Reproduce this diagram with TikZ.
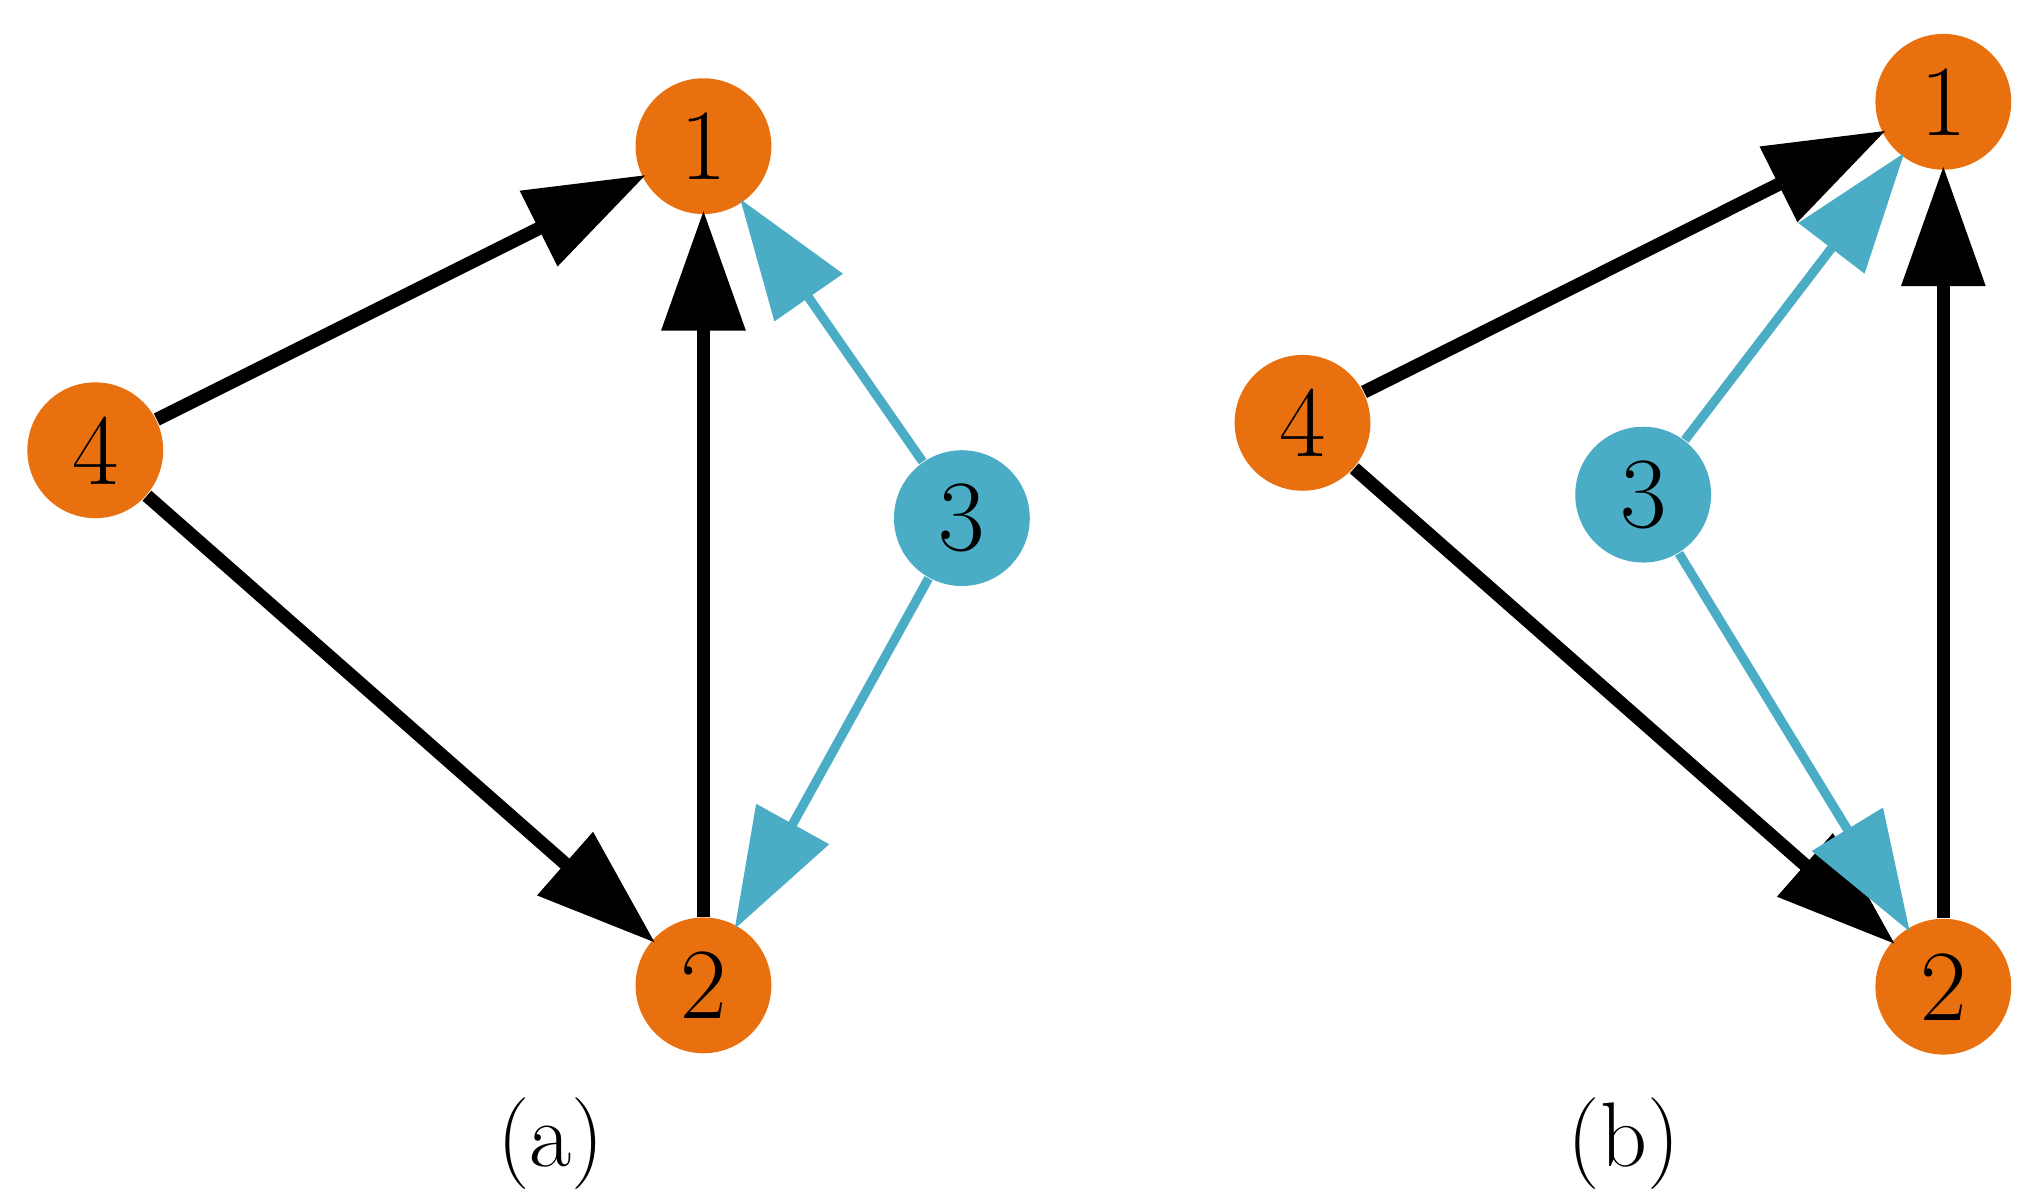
\documentclass[tikz,border=0pt]{standalone}
\usetikzlibrary{arrows.meta}
\definecolor{org}{HTML}{E8700F}
\definecolor{blu}{HTML}{4BACC6}
\begin{document}
\begin{tikzpicture}[x=0.01cm,y=-0.01cm,
  v/.style={circle,minimum size=1.04cm,inner sep=0pt,font=\fontsize{22}{24}\selectfont},
  o/.style={v,fill=org},b/.style={v,fill=blu},
  ke/.style={line width=2.9pt,-{Triangle[length=0.92cm,width=0.62cm]},shorten >=-1pt},
  be/.style={ke,draw=blu,line width=2pt},
  lab/.style={font=\fontsize{20}{24}\selectfont}]
\useasboundingbox (0,0) rectangle (1560,913);
\node[o] (a1) at (539,112) {1};
\node[o] (a4) at (73,345) {4};
\node[b] (a3) at (737,397) {3};
\node[o] (a2) at (539,755) {2};
\draw[ke] (a4) -- (a1);
\draw[ke] (a4) -- (a2);
\draw[ke] (a2) -- (a1);
\draw[be] (a3) -- (a1);
\draw[be] (a3) -- (a2);
\node[lab] (la) at (422,876) {(a)};
\node[o] (b1) at (1489,78) {1};
\node[o] (b4) at (998,324) {4};
\node[b] (b3) at (1259,379) {3};
\node[o] (b2) at (1489,756) {2};
\draw[ke] (b4) -- (b1);
\draw[ke] (b4) -- (b2);
\draw[ke] (b2) -- (b1);
\draw[be] (b3) -- (b1);
\draw[be] (b3) -- (b2);
\node[lab] (lb) at (1244,876) {(b)};
\end{tikzpicture}
\end{document}
